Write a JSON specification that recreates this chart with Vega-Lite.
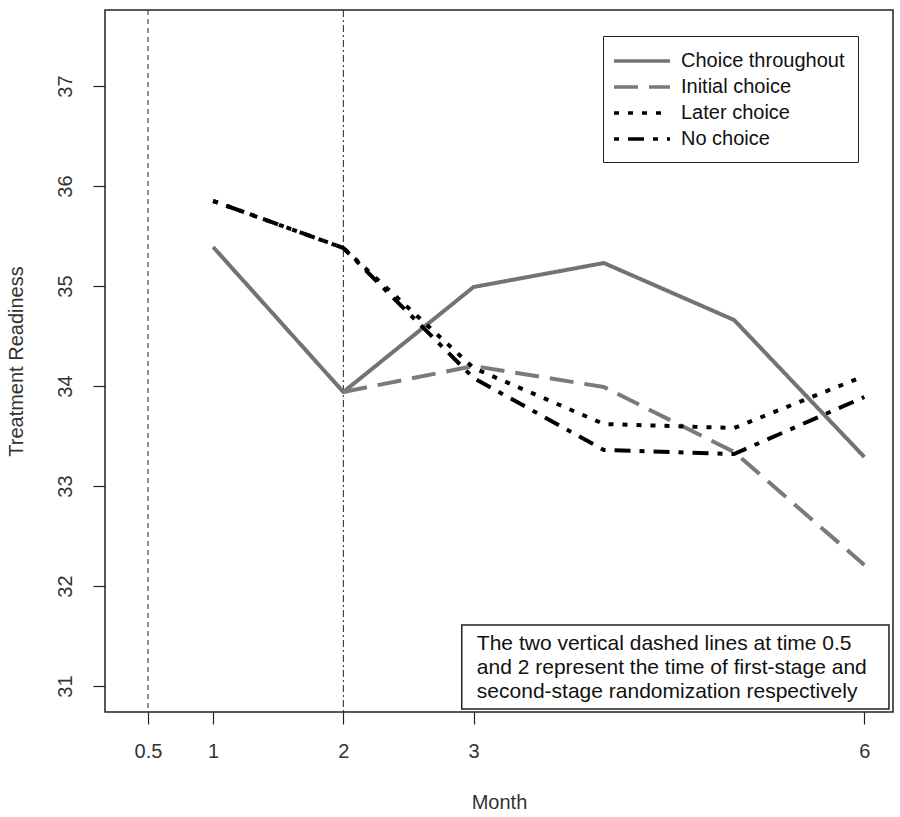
{
  "$schema": "https://vega.github.io/schema/vega-lite/v6.json",
  "width": 788,
  "height": 702,
  "autosize": {"type": "none"},
  "padding": {"left": 105, "top": 10, "right": 7, "bottom": 105},
  "background": "white",
  "config": {
    "font": "Liberation Sans",
    "view": {"stroke": "#222", "strokeWidth": 1.5},
    "axis": {
      "grid": false,
      "domain": false,
      "ticks": true,
      "tickColor": "#222",
      "tickWidth": 1.2,
      "tickSize": 12
    }
  },
  "datasets": {
    "series": [
      {"month": 1, "value": 35.39, "group": "Choice throughout"},
      {"month": 2, "value": 33.94, "group": "Choice throughout"},
      {"month": 3, "value": 34.99, "group": "Choice throughout"},
      {"month": 4, "value": 35.23, "group": "Choice throughout"},
      {"month": 5, "value": 34.66, "group": "Choice throughout"},
      {"month": 6, "value": 33.29, "group": "Choice throughout"},
      {"month": 2, "value": 33.94, "group": "Initial choice"},
      {"month": 3, "value": 34.2, "group": "Initial choice"},
      {"month": 4, "value": 33.99, "group": "Initial choice"},
      {"month": 5, "value": 33.34, "group": "Initial choice"},
      {"month": 6, "value": 32.21, "group": "Initial choice"},
      {"month": 1, "value": 35.85, "group": "Later choice"},
      {"month": 2, "value": 35.38, "group": "Later choice"},
      {"month": 3, "value": 34.18, "group": "Later choice"},
      {"month": 4, "value": 33.62, "group": "Later choice"},
      {"month": 5, "value": 33.58, "group": "Later choice"},
      {"month": 6, "value": 34.1, "group": "Later choice"},
      {"month": 1, "value": 35.85, "group": "No choice"},
      {"month": 2, "value": 35.38, "group": "No choice"},
      {"month": 3, "value": 34.08, "group": "No choice"},
      {"month": 4, "value": 33.36, "group": "No choice"},
      {"month": 5, "value": 33.32, "group": "No choice"},
      {"month": 6, "value": 33.89, "group": "No choice"}
    ],
    "one": [{"k": 1}]
  },
  "layer": [
    {
      "data": {"name": "one"},
      "mark": {"type": "rule", "color": "#222", "strokeWidth": 1, "strokeDash": [5, 4]},
      "encoding": {
        "x": {"datum": 0.5, "type": "quantitative", "scale": {"domain": [0.17, 6.22], "nice": false, "zero": false},
          "axis": {"values": [0.5, 1, 2, 3, 6], "title": "Month", "format": "~g",
            "labelFont": "Liberation Sans", "labelFontSize": 20, "labelColor": "#333", "labelPadding": 17,
            "titleFont": "Liberation Sans", "titleFontSize": 20, "titleFontWeight": "normal", "titleColor": "#333", "titlePadding": 31}},
        "y": {"datum": 37.76, "type": "quantitative", "scale": {"domain": [30.74, 37.76], "nice": false, "zero": false},
          "axis": {"values": [31, 32, 33, 34, 35, 36, 37], "title": "Treatment Readiness", "format": "~g",
            "labelAngle": -90, "labelAlign": "center", "labelBaseline": "bottom",
            "labelFont": "Liberation Sans", "labelFontSize": 20, "labelColor": "#333", "labelPadding": 18,
            "titleFont": "Liberation Sans", "titleFontSize": 20, "titleFontWeight": "normal", "titleColor": "#333", "titlePadding": 29}},
        "y2": {"datum": 30.74}
      }
    },
    {
      "data": {"name": "one"},
      "mark": {"type": "rule", "color": "#222", "strokeWidth": 1, "strokeDash": [7, 3, 2, 3]},
      "encoding": {
        "x": {"datum": 2, "type": "quantitative"},
        "y": {"datum": 37.76, "type": "quantitative"},
        "y2": {"datum": 30.74}
      }
    },
    {
      "data": {"name": "series"},
      "mark": {"type": "line", "strokeWidth": 4, "strokeCap": "butt", "strokeJoin": "round"},
      "encoding": {
        "x": {"field": "month", "type": "quantitative"},
        "y": {"field": "value", "type": "quantitative"},
        "color": {
          "field": "group", "type": "nominal",
          "scale": {"domain": ["Choice throughout", "Initial choice", "Later choice", "No choice"],
                    "range": ["#737373", "#7a7a7a", "#000000", "#000000"]},
          "legend": {
            "title": null, "orient": "none", "legendX": 498, "legendY": 26,
            "strokeColor": "#222", "fillColor": "white",
            "padding": 13, "labelFontSize": 20, "labelFont": "Liberation Sans", "labelColor": "#111", "labelLimit": 400,
            "symbolType": "M-1.4,0H4.2", "symbolSize": 400, "symbolStrokeWidth": 3.5,
            "symbolFillColor": "transparent", "labelOffset": 41, "rowPadding": 4
          }
        },
        "strokeDash": {
          "field": "group", "type": "nominal",
          "scale": {"domain": ["Choice throughout", "Initial choice", "Later choice", "No choice"],
                    "range": [[1, 0], [24, 11], [5, 9], [5, 9, 16, 9]]},
          "legend": {
            "title": null, "orient": "none", "legendX": 498, "legendY": 26,
            "strokeColor": "#222", "fillColor": "white",
            "padding": 13, "labelFontSize": 20, "labelFont": "Liberation Sans", "labelColor": "#111", "labelLimit": 400,
            "symbolType": "M-1.4,0H4.2", "symbolSize": 400, "symbolStrokeWidth": 3.5,
            "symbolFillColor": "transparent", "labelOffset": 41, "rowPadding": 4
          }
        }
      }
    },
    {
      "data": {"name": "one"},
      "mark": {"type": "rect", "fill": "white", "stroke": "#222", "strokeWidth": 1.5},
      "encoding": {
        "x": {"datum": 2.909, "type": "quantitative"},
        "x2": {"datum": 6.189},
        "y": {"datum": 31.61, "type": "quantitative"},
        "y2": {"datum": 30.77}
      }
    },
    {
      "data": {"name": "one"},
      "mark": {"type": "text", "align": "left", "baseline": "top", "fontSize": 21, "lineHeight": 24, "color": "#111", "font": "Liberation Sans",
        "text": ["The two vertical dashed lines at time 0.5", "and 2 represent the time of first-stage and", "second-stage randomization respectively"]},
      "encoding": {
        "x": {"datum": 3.025, "type": "quantitative"},
        "y": {"datum": 31.53, "type": "quantitative"}
      }
    }
  ]
}
